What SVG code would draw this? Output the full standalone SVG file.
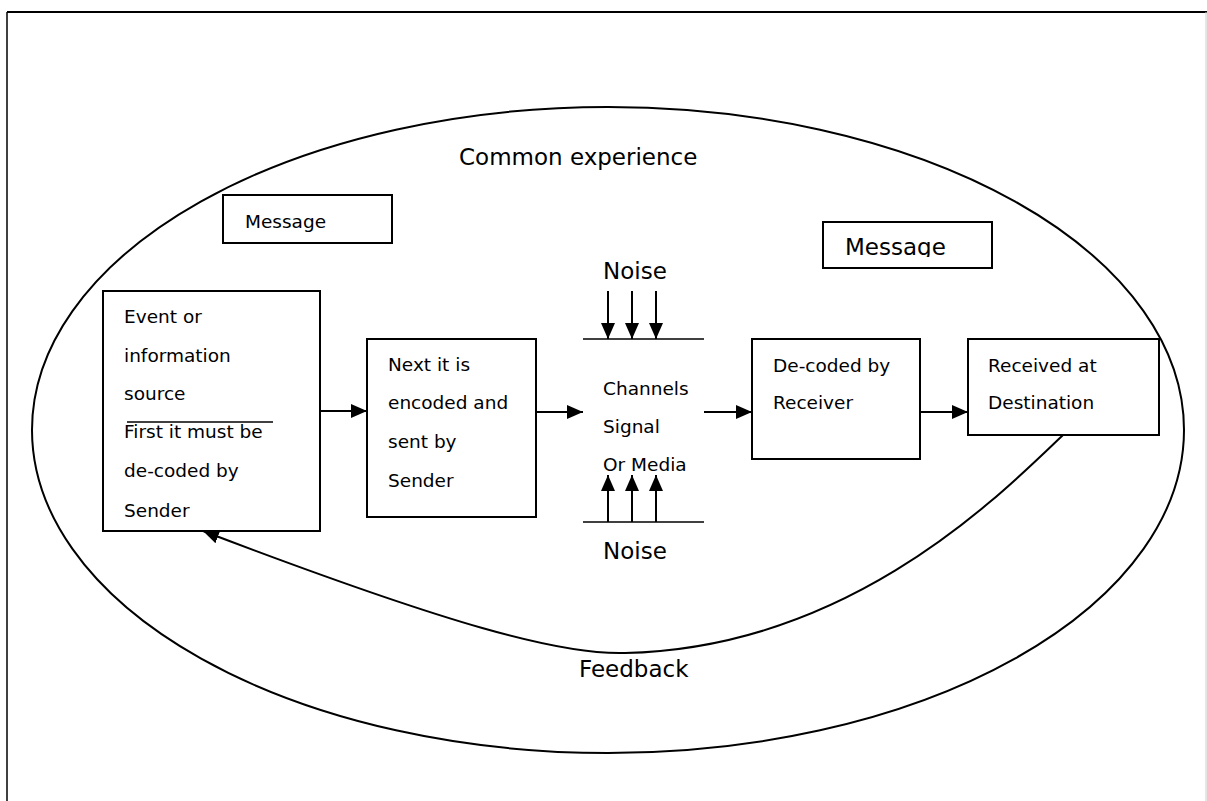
<svg xmlns="http://www.w3.org/2000/svg" width="1207" height="801" viewBox="0 0 1207 801">
<style>
  .box { fill: #fff; stroke: #000; stroke-width: 2; }
  .t { font-family: "DejaVu Sans", "Liberation Sans", sans-serif; font-size: 18.5px; fill: #000; }
  .big { font-family: "DejaVu Sans", "Liberation Sans", sans-serif; font-size: 23px; fill: #000; }
  .conn { fill: none; stroke: #000; stroke-width: 2; }
  .thin { fill: none; stroke: #000; stroke-width: 1.5; }
</style>
<defs>
  <marker id="ah" viewBox="0 0 16 14" refX="16" refY="7" markerWidth="16" markerHeight="14" markerUnits="userSpaceOnUse" orient="auto">
    <path d="M0,0 L16,7 L0,14 Z" fill="#000"/>
  </marker>
  <clipPath id="clipMsg"><rect x="820" y="220" width="180" height="37"/></clipPath>
</defs>
<rect width="1207" height="801" fill="#fff"/>
<g id="frame">
  <line x1="7" y1="12" x2="1207" y2="12" stroke="#000" stroke-width="2"/>
  <line x1="7" y1="12" x2="7" y2="801" stroke="#000" stroke-width="1.5"/>
  <line x1="1206" y1="12" x2="1206" y2="801" stroke="#ccc" stroke-width="1"/>
</g>
<g id="common-experience">
  <ellipse cx="608" cy="430" rx="576" ry="323" fill="none" stroke="#000" stroke-width="2"/>
  <text class="big" x="459" y="165">Common experience</text>
</g>
<g id="message-left">
  <rect class="box" x="223" y="195" width="169" height="48"/>
  <text class="t" x="245" y="228">Message</text>
</g>
<g id="message-right">
  <rect class="box" x="823" y="222" width="169" height="46"/>
  <text class="big" x="845" y="255" clip-path="url(#clipMsg)">Message</text>
</g>
<g id="source">
  <rect class="box" x="103" y="291" width="217" height="240"/>
  <line x1="127" y1="422" x2="273" y2="422" stroke="#000" stroke-width="1.5"/>
  <text class="t" x="124" y="323">Event or</text>
  <text class="t" x="124" y="362">information</text>
  <text class="t" x="124" y="400">source</text>
  <text class="t" x="124" y="438">First it must be</text>
  <text class="t" x="124" y="477">de-coded by</text>
  <text class="t" x="124" y="517">Sender</text>
</g>
<g id="encoder">
  <rect class="box" x="367" y="339" width="169" height="178"/>
  <text class="t" x="388" y="371">Next it is</text>
  <text class="t" x="388" y="409">encoded and</text>
  <text class="t" x="388" y="448">sent by</text>
  <text class="t" x="388" y="487">Sender</text>
</g>
<g id="channel">
  <line class="thin" x1="583" y1="339" x2="704" y2="339"/>
  <line class="thin" x1="583" y1="522" x2="704" y2="522"/>
  <text class="t" x="603" y="395">Channels</text>
  <text class="t" x="603" y="433">Signal</text>
  <text class="t" x="603" y="471">Or Media</text>
</g>
<g id="noise-top">
  <text class="big" x="603" y="279">Noise</text>
</g>
<g id="noise-bottom">
  <text class="big" x="603" y="559">Noise</text>
</g>
<g id="decoder">
  <rect class="box" x="752" y="339" width="168" height="120"/>
  <text class="t" x="773" y="372">De-coded by</text>
  <text class="t" x="773" y="409">Receiver</text>
</g>
<g id="destination">
  <rect class="box" x="968" y="339" width="191" height="96"/>
  <text class="t" x="988" y="372">Received at</text>
  <text class="t" x="988" y="409">Destination</text>
</g>
<g id="feedback-label">
  <text class="big" x="579" y="677">Feedback</text>
</g>
<g id="connectors">
  <line class="conn" x1="320" y1="411" x2="367" y2="411" marker-end="url(#ah)"/>
  <line class="conn" x1="536" y1="412" x2="583" y2="412" marker-end="url(#ah)"/>
  <line class="conn" x1="704" y1="412" x2="752" y2="412" marker-end="url(#ah)"/>
  <line class="conn" x1="920" y1="412" x2="968" y2="412" marker-end="url(#ah)"/>
  <line class="conn" x1="608" y1="291" x2="608" y2="339" marker-end="url(#ah)"/>
  <line class="conn" x1="632" y1="291" x2="632" y2="339" marker-end="url(#ah)"/>
  <line class="conn" x1="656" y1="291" x2="656" y2="339" marker-end="url(#ah)"/>
  <line class="conn" x1="608" y1="522" x2="608" y2="475" marker-end="url(#ah)"/>
  <line class="conn" x1="632" y1="522" x2="632" y2="475" marker-end="url(#ah)"/>
  <line class="conn" x1="656" y1="522" x2="656" y2="475" marker-end="url(#ah)"/>
  <path class="conn" d="M1063,435 C1000,495 850,648 625,653 C560,655 450,625 203,531" marker-end="url(#ah)"/>
</g>
</svg>
